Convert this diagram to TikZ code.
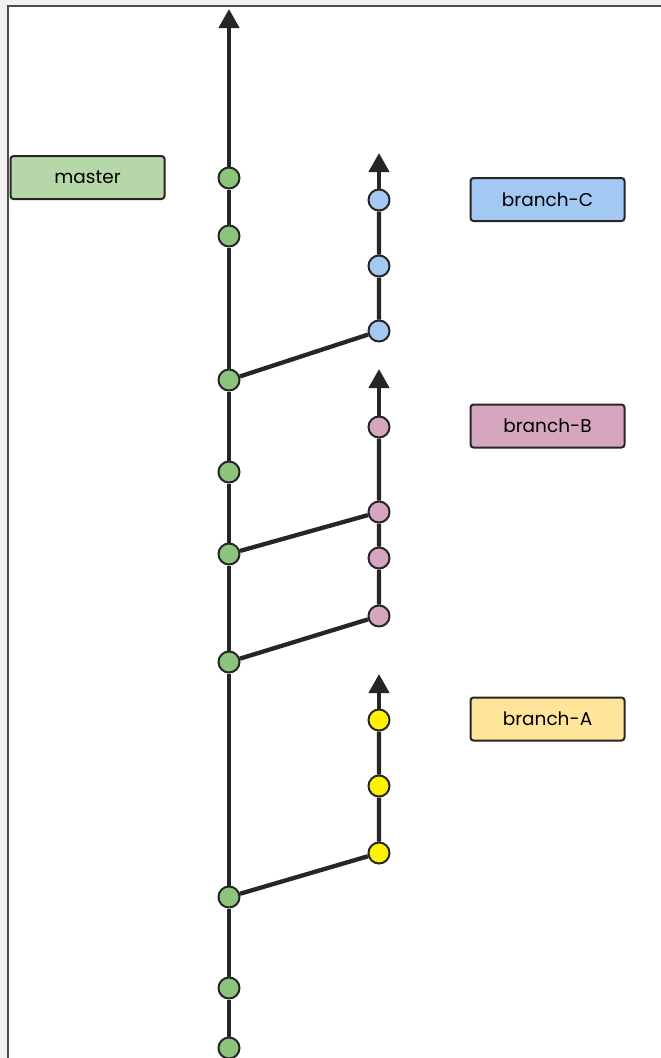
\documentclass[tikz,border=0pt]{standalone}
\usepackage{fontspec}
\setmainfont{Poppins}
\usetikzlibrary{arrows.meta}

\definecolor{linegray}{HTML}{262626}
\definecolor{mastergreen}{HTML}{8CC47C}
\definecolor{masterbox}{HTML}{B6D7A8}
\definecolor{cblue}{HTML}{A4C8F4}
\definecolor{bpink}{HTML}{D5A6BD}
\definecolor{ayellow}{HTML}{FFF200}
\definecolor{abox}{HTML}{FFE599}

\tikzset{
  commit/.style={circle, draw=linegray, line width=2pt, inner sep=0pt, minimum size=21pt},
  tag/.style={rectangle, rounded corners=3pt, draw=linegray, line width=2pt,
    minimum width=154pt, minimum height=43pt, inner sep=0pt, font=\fontsize{18.5}{18.5}\selectfont},
  hist/.style={draw=linegray, line width=4.3pt},
  tip/.style={hist, -{Triangle[length=19pt, width=20pt]}}
}

\begin{document}
\begin{tikzpicture}[x=1pt, y=-1pt]
\useasboundingbox (0,0) rectangle (661,1058);
\fill[black!6] (0,0) rectangle (661,1058);
\fill[white] (8,6) rectangle (661,1058);
\draw[black!70, line width=2.4pt] (8,1058) -- (8,6) -- (661,6);
\clip (8,6) rectangle (661,1058);

\node[tag, fill=masterbox] (master) at (87.5,177.5) {master};
\node[tag, fill=cblue]     (branchC) at (547.5,199.5) {branch-C};
\node[tag, fill=bpink]     (branchB) at (547.5,426) {branch-B};
\node[tag, fill=abox]      (branchA) at (547.5,719) {branch-A};

\node[commit, fill=mastergreen] (m1) at (229,178)  {};
\node[commit, fill=mastergreen] (m2) at (229,236)  {};
\node[commit, fill=mastergreen] (m3) at (229,380)  {};
\node[commit, fill=mastergreen] (m4) at (229,472)  {};
\node[commit, fill=mastergreen] (m5) at (229,554)  {};
\node[commit, fill=mastergreen] (m6) at (229,662)  {};
\node[commit, fill=mastergreen] (m7) at (229,897)  {};
\node[commit, fill=mastergreen] (m8) at (229,988)  {};
\node[commit, fill=mastergreen] (m9) at (229,1048) {};
\coordinate (mtop) at (229,9);
\coordinate (mbot) at (229,1070);

\node[commit, fill=cblue] (c1) at (379,200) {};
\node[commit, fill=cblue] (c2) at (379,266) {};
\node[commit, fill=cblue] (c3) at (379,331) {};
\coordinate (ctop) at (379,153);

\node[commit, fill=bpink] (b1) at (379,427) {};
\node[commit, fill=bpink] (b2) at (379,512) {};
\node[commit, fill=bpink] (b3) at (379,558) {};
\node[commit, fill=bpink] (b4) at (379,616) {};
\coordinate (btop) at (379,369);

\node[commit, fill=ayellow] (a1) at (379,720) {};
\node[commit, fill=ayellow] (a2) at (379,786) {};
\node[commit, fill=ayellow] (a3) at (379,853) {};
\coordinate (atop) at (379,674);

\draw[hist] (mbot) -- (m9) -- (m8) -- (m7) -- (m6) -- (m5) -- (m4) -- (m3) -- (m2) -- (m1);
\draw[tip]  (m1) -- (mtop);

\draw[hist] (m3) -- (c3) -- (c2) -- (c1);
\draw[tip]  (c1) -- (ctop);

\draw[hist] (m6) -- (b4) -- (b3) -- (b2) -- (b1);
\draw[hist] (m5) -- (b2);
\draw[tip]  (b1) -- (btop);

\draw[hist] (m7) -- (a3) -- (a2) -- (a1);
\draw[tip]  (a1) -- (atop);
\end{tikzpicture}
\end{document}
